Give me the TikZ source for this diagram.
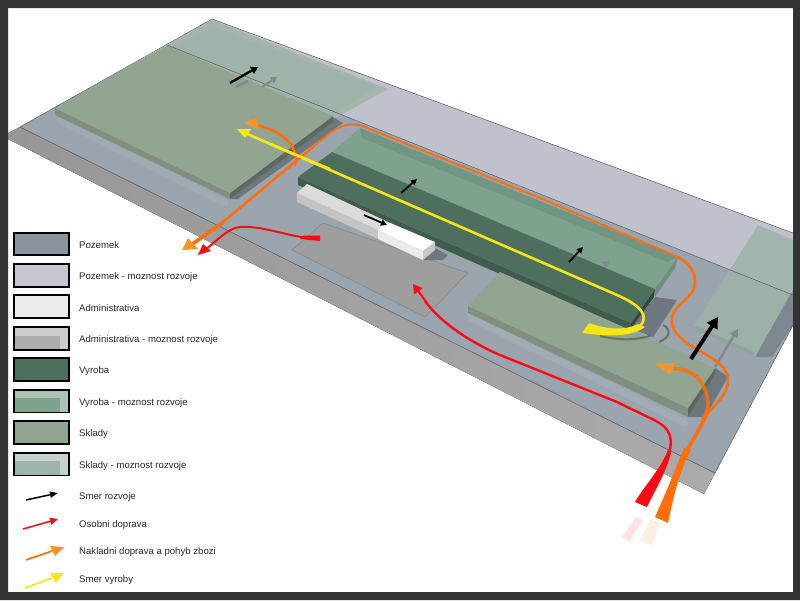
\documentclass[tikz,border=0pt]{standalone}
\usepackage{fontspec}
\setmainfont{Liberation Sans}
\usetikzlibrary{arrows.meta}
\definecolor{frame}{HTML}{333333}
\definecolor{ground}{HTML}{9AA5AE}
\definecolor{groundnew}{HTML}{C0C2CB}
\definecolor{plateside}{HTML}{979797}
\definecolor{park}{HTML}{9E9E9E}
\definecolor{store}{HTML}{92A590}
\definecolor{storeside}{HTML}{7F9080}
\definecolor{storeend}{HTML}{5D6B5F}
\definecolor{storenew}{HTML}{9EB4A9}
\definecolor{storerim}{HTML}{A5B5AE}
\definecolor{work}{HTML}{4E6F5E}
\definecolor{workside}{HTML}{3F5C4C}
\definecolor{workend}{HTML}{2F4A3C}
\definecolor{worknew}{HTML}{7EA28D}
\definecolor{workrim}{HTML}{719683}
\definecolor{workrimend}{HTML}{6F8F7E}
\definecolor{castshadow}{HTML}{6C7780}
\definecolor{carred}{HTML}{FF0A14}
\definecolor{lorry}{HTML}{FF6E0A}
\definecolor{lorryhead}{HTML}{FF9420}
\definecolor{flow}{HTML}{F5E619}
\definecolor{ghost}{HTML}{7D8A8E}
\tikzset{
  edgeline/.style={draw=black!65,line width=.5pt},
  carline/.style={draw=carred,line width=2.4pt,line cap=round},
  lorryline/.style={draw=lorry,line width=2.6pt,line cap=round},
  flowline/.style={draw=flow,line width=2.6pt},
  dirarrow/.style={draw=black,line width=2.4pt,-{Triangle[length=7pt,width=7.5pt]}},
  ghostarrow/.style={draw=ghost,line width=2pt,-{Triangle[length=6pt,width=7pt]}},
  swatch/.style={draw=black,line width=1.2pt},
  legendtext/.style={anchor=west,inner sep=0pt,text=black!85,font=\fontsize{9.6}{11}\selectfont}
}
\begin{document}
\begin{tikzpicture}[x=1pt,y=-1pt]
\useasboundingbox (0,0) rectangle (800,600);
\fill[white] (0,0) rectangle (800,600);
% plate
\fill[left color=plateside,right color=black!33] (8,133) -- (20,127) -- (715,473) -- (704,494) -- (8,139) -- cycle;
\fill[ground] (20,127) -- (167,45) -- (793,295) -- (793,325) -- (715,473) -- cycle;
\fill[groundnew] (167,45) -- (212,19) -- (793,233) -- (793,295) -- cycle;
% admin extension pad
\fill[park] (292,250) -- (323,223) -- (468,273) -- (425,317) -- cycle;
\draw[black!50,line width=.4pt] (292,250) -- (323,223) -- (468,273) -- (425,317) -- cycle;
% soft glow round buildings
\draw[white,opacity=.08,line width=7pt,line cap=round] (470,317) -- (685,423);
\draw[white,opacity=.06,line width=7pt,line cap=round] (60,120) -- (225,203);
% ground shadows
\fill[castshadow] (333,117) -- (230,199) -- (238,199) -- (343,123) -- cycle;
\fill[castshadow] (655,297) -- (630,328) -- (653,337) -- (677,300) -- cycle;
\fill[castshadow] (715,368) -- (688,417) -- (705,417) -- (728,377) -- cycle;
\fill[castshadow] (423,260) -- (435,248) -- (448,255) -- (443,260) -- cycle;
% store extension, upper
\fill[storerim] (167,45) -- (212,20) -- (388,89) -- (335,118) -- cycle;
\fill[storenew] (172,47) -- (213,27) -- (377,87) -- (333,115) -- cycle;
% store, big
\fill[storeside] (55,108) -- (230,193) -- (230,199) -- (55,115) -- cycle;
\fill[storeend] (230,193) -- (333,116) -- (333,122) -- (230,199) -- cycle;
\fill[store] (55,108) -- (167,46) -- (333,116) -- (230,193) -- cycle;
% store extension, right
\fill[castshadow,opacity=.65] (755,357) -- (793,290) -- (793,325) -- (772,357) -- cycle;
\fill[storenew,opacity=.85] (758,225) -- (793,240) -- (793,288) -- (755,357) -- (693,328) -- cycle;
\fill[storeside,opacity=.35] (693,328) -- (755,357) -- (754,352) -- (697,326) -- cycle;
% production extension
\fill[worknew] (332,152) -- (360,128) -- (678,257) -- (655,289) -- cycle;
\fill[workrim] (360,128) -- (678,257) -- (667,262) -- (362,138) -- cycle;
\fill[workrimend] (678,257) -- (675,268) -- (655,297) -- (655,289) -- cycle;
% production
\fill[workside] (298,177) -- (631,323) -- (630,330) -- (500,274) -- (298,185) -- cycle;
\fill[workend] (631,323) -- (655,289) -- (654,297) -- (630,330) -- cycle;
\fill[work] (298,177) -- (332,152) -- (655,289) -- (631,323) -- cycle;
% administration
\fill[black!23] (297,193) -- (378,230) -- (378,239) -- (297,202) -- cycle;
\fill[black!14] (297,193) -- (307,184) -- (388,222) -- (378,230) -- cycle;
\fill[black!8] (378,230) -- (423,251) -- (423,260) -- (378,239) -- cycle;
\fill[white] (378,230) -- (388,222) -- (435,242) -- (423,251) -- cycle;
\fill[black!22] (423,251) -- (435,242) -- (435,250) -- (423,260) -- cycle;
% store, small
\fill[storeside] (468,306) -- (688,408) -- (688,417) -- (468,313) -- cycle;
\fill[storeend] (688,408) -- (715,368) -- (715,374) -- (688,417) -- cycle;
\fill[store] (500,272) -- (715,368) -- (688,408) -- (468,306) -- cycle;
% plate edges
\draw[edgeline] (20,127) -- (715,473) -- (793,325);
\draw[edgeline] (20,127) -- (212,19) -- (793,233);
\draw[edgeline] (167,45) -- (793,295);
% ghost arrows and shadows
\draw[ghostarrow] (262,87) -- (277,77);
\draw[ghost,line width=2.5pt] (236,87) -- (248,81);
\draw[ghostarrow,line width=1.5pt] (603,266) -- (609,261);
\draw[ghostarrow,line width=2.5pt,-{Triangle[length=8pt,width=9pt]}] (715,367) -- (738,329);
% direction arrows
\draw[dirarrow] (230,83) -- (258,67);
\draw[dirarrow,line width=1.8pt,-{Triangle[length=6pt,width=6pt]}] (401,193) -- (417,179);
\draw[dirarrow,line width=1.8pt,-{Triangle[length=6pt,width=6pt]}] (364,215) -- (387,225);
\draw[dirarrow,line width=1.8pt,-{Triangle[length=6pt,width=6pt]}] (569,262) -- (583,247);
% flow shadow arcs
\draw[black!30!store,line width=2pt] (600,336) .. controls (620,341) and (640,340) .. (652,335);
\draw[black!30!store,line width=2pt] (659,342) .. controls (672,337) and (670,328) .. (663,325);
% yellow flow
\fill[flow] (589,323) .. controls (605,329) and (625,331) .. (638,324) -- (645,327)
  .. controls (630,338) and (605,336) .. (582,333) -- cycle;
\draw[flowline] (640,326) .. controls (650,316) and (640,305) .. (617,295) -- (245,133);
\fill[flow] (237,129) -- (251,129) -- (245,138) -- cycle;
% orange, main
\fill[lorry] (655,517) -- (668,523) .. controls (675,490) and (680,470) .. (691,450)
  -- (684,448) .. controls (675,470) and (665,495) .. (655,517) -- cycle;
\draw[lorryline,line width=3.5pt] (687,451) .. controls (695,435) and (702,427) .. (708,410);
\draw[lorryline] (706,415) .. controls (720,400) and (728,392) .. (728,380)
  .. controls (728,368) and (718,361) .. (693,347)
  .. controls (678,338) and (670,328) .. (672,317)
  .. controls (675,303) and (695,298) .. (695,283)
  .. controls (695,272) and (690,264) .. (678,257);
\draw[lorry,line width=1.9pt] (678,257) -- (540,198) -- (362,126)
  .. controls (345,121) and (335,128) .. (313,147);
\draw[lorryline] (314,146) -- (217,227);
\draw[lorryline,line width=3.6pt,line cap=butt] (225,221) -- (191,245);
\fill[lorryhead] (182,250) -- (188,238) -- (198,249) -- cycle;
% orange, left branch
\draw[lorryline] (295,165) .. controls (300,150) and (285,130) .. (255,125);
\fill[lorryhead] (245,123) -- (256,117) -- (259,129) -- cycle;
% orange, branch to small store
\draw[lorry,opacity=.85,line width=3.6pt,line cap=round] (703,420) .. controls (712,405) and (708,390) .. (697,377)
  .. controls (690,371) and (682,369) .. (672,368);
\fill[lorryhead,opacity=.9] (656,364) -- (675,363) -- (670,375) -- cycle;
% yellow over orange
\draw[flowline] (330,169) -- (270,144);
% black arrow, front right
\draw[dirarrow,line width=4pt,-{Triangle[length=11pt,width=12pt]}] (691,359) -- (718,317);
% red main
\fill[carred] (635,502) -- (647,507) .. controls (655,490) and (665,475) .. (671,453)
  -- (668,450) .. controls (660,470) and (645,485) .. (635,502) -- cycle;
\draw[carline] (669,454) .. controls (675,432) and (665,425) .. (650,418) -- (617,402) -- (500,355)
  .. controls (470,342) and (440,322) .. (425,301);
\draw[carred,line width=2pt,-{Triangle[length=9pt,width=10pt]}] (427,303) -- (413,284);
% red second
\draw[carred,line width=2pt] (320,238) .. controls (295,240) and (265,225) .. (240,227) .. controls (228,228) and (218,240) .. (205,250);
\fill[carred] (320,235.5) -- (320,241) -- (300,239) -- (303,235.5) -- cycle;
\fill[carred] (198,255) -- (203,244) -- (211,251) -- cycle;
% fading tails
\fill[carred!12] (622,537) -- (630,541) -- (643,520) -- (636,517) -- cycle;
\fill[lorry!12] (640,541) -- (652,545) -- (660,522) -- (650,520) -- cycle;
% legend swatches
\draw[swatch,fill=ground!90!black] (14,233) rectangle (69,255);
\draw[swatch,fill=groundnew!90!white] (14,264) rectangle (69,287);
\draw[swatch,fill=black!8] (14,295) rectangle (69,318);
\draw[swatch,fill=black!20] (14,327) rectangle (69,350);
\fill[black!32] (15,335.5) rectangle (60,349);
\draw[swatch,fill=work] (14,358) rectangle (69,381);
\draw[swatch,fill=worknew!65!white] (14,390) rectangle (69,412.5);
\fill[worknew] (15,398) rectangle (60,411.5);
\draw[swatch,fill=store] (14,421) rectangle (69,444);
\draw[swatch,fill=storenew!60!white] (14,453) rectangle (69,475.5);
\fill[storenew] (15,461) rectangle (60,474.5);
\draw[swatch] (14,327) rectangle (69,350);
\draw[swatch] (14,390) rectangle (69,412.5);
\draw[swatch] (14,453) rectangle (69,475.5);
% legend texts
\node[legendtext] (t1) at (79,245) {Pozemek};
\node[legendtext] (t2) at (79,277) {Pozemek - moznost rozvoje};
\node[legendtext] (t3) at (79,308) {Administrativa};
\node[legendtext] (t4) at (79,340) {Administrativa - moznost rozvoje};
\node[legendtext] (t5) at (79,371) {Vyroba};
\node[legendtext] (t6) at (79,403) {Vyroba - moznost rozvoje};
\node[legendtext] (t7) at (79,434) {Sklady};
\node[legendtext] (t8) at (79,466) {Sklady - moznost rozvoje};
\node[legendtext] (t9) at (79,497) {Smer rozvoje};
\node[legendtext] (t10) at (79,525) {Osobni doprava};
\node[legendtext] (t11) at (79,552) {Nakladni doprava a pohyb zbozi};
\node[legendtext] (t12) at (79,580) {Smer vyroby};
% legend arrows
\draw[black,line width=1.5pt,-{Triangle[length=8pt,width=6pt]}] (26,500) -- (58,493);
\draw[carred,line width=1.5pt,-{Triangle[length=8pt,width=7pt]}] (23,529) -- (58,519);
\draw[lorry,line width=1.7pt] (26,560) -- (52,551);
\fill[lorryhead] (64,547) -- (50,546) -- (55,556) -- cycle;
\draw[flow,line width=1.7pt] (25,588) -- (52,578);
\fill[flow] (64,573) -- (50,573) -- (56,583) -- cycle;
% picture frame
\fill[frame,even odd rule] (0,0) rectangle (800,600) (8,8) rectangle (793,592);
\end{tikzpicture}
\end{document}
